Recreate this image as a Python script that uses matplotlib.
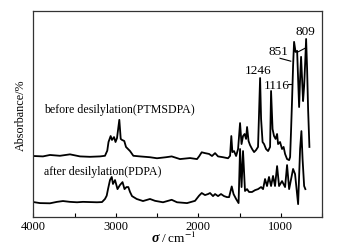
import matplotlib.pyplot as plt

plt.rcParams['font.family'] = ['Liberation Serif', 'DejaVu Serif']
plt.rcParams['mathtext.fontset'] = 'stix'

# spectra: wavenumber (cm-1) and absorbance (arb. units)
wn_before = [4000, 3885, 3800, 3679, 3557, 3436, 3315, 3193, 3133, 3105,
             3090, 3064, 3048, 3023, 3005, 2987, 2959, 2942, 2926, 2899,
             2878, 2829, 2789, 2708, 2587, 2502, 2393, 2324, 2223, 2102,
             2017, 1992, 1960, 1920, 1871, 1835, 1798, 1762, 1701, 1641,
             1616, 1601, 1588, 1568, 1543, 1519, 1495, 1477, 1459, 1440,
             1422, 1410, 1392, 1374, 1349, 1325, 1301, 1277, 1265, 1252,
             1240, 1222, 1204, 1180, 1155, 1131, 1119, 1101, 1083, 1064,
             1046, 1034, 1010, 986, 967, 949, 925, 900, 888, 876,
             864, 852, 840, 822, 803, 791, 779, 767, 755, 743,
             731, 718, 706, 694, 682, 670, 654]
a_before = [29.7, 29.5, 30.2, 29.8, 30.5, 29.5, 29.3, 29.5, 29.8, 32.3,
            36.5, 39.4, 37.5, 38.9, 36.5, 38.4, 47.3, 38.0, 37.5, 37.0,
            34.1, 32.1, 29.8, 29.5, 29.1, 28.6, 29.1, 29.5, 28.2, 28.7,
            28.2, 29.5, 31.5, 31.1, 30.7, 29.7, 31.1, 29.5, 29.1, 28.6,
            29.8, 39.4, 31.6, 32.1, 29.7, 33.1, 45.7, 35.5, 39.4, 40.4,
            38.0, 43.8, 37.0, 35.0, 33.1, 31.6, 32.6, 34.1, 50.1, 67.6,
            47.7, 36.5, 35.5, 33.1, 32.1, 34.1, 61.3, 42.8, 39.4, 38.0,
            40.4, 35.5, 36.5, 33.1, 34.1, 30.7, 28.2, 27.7, 29.2, 42.8,
            57.4, 73.5, 85.2, 80.3, 80.8, 67.2, 53.5, 67.2, 77.9, 67.2,
            56.4, 63.7, 74.5, 86.6, 72.0, 52.6, 34.1]

wn_after = [4000, 3921, 3800, 3715, 3642, 3557, 3472, 3400, 3315, 3230,
            3169, 3133, 3112, 3096, 3072, 3051, 3036, 3011, 2981, 2951,
            2920, 2896, 2872, 2850, 2829, 2805, 2748, 2672, 2587, 2526,
            2429, 2324, 2259, 2138, 2041, 1992, 1960, 1920, 1883, 1859,
            1823, 1798, 1762, 1726, 1689, 1653, 1628, 1596, 1574, 1543,
            1513, 1495, 1477, 1459, 1435, 1410, 1386, 1350, 1313, 1277,
            1240, 1216, 1192, 1168, 1144, 1119, 1095, 1071, 1046, 1022,
            986, 949, 925, 900, 876, 852, 828, 791, 767, 751,
            737, 718, 703]
a_after = [7.3, 6.8, 6.7, 7.4, 7.8, 7.4, 7.2, 7.4, 7.3, 7.2,
           7.3, 8.8, 10.4, 13.6, 18.0, 19.5, 16.1, 18.0, 13.6, 15.6,
           17.0, 13.6, 14.6, 14.6, 12.2, 10.2, 8.8, 7.8, 8.8, 7.9,
           7.2, 8.4, 7.2, 6.8, 7.9, 10.4, 11.7, 10.7, 11.2, 11.7,
           10.2, 11.2, 10.2, 11.2, 10.2, 9.7, 9.7, 14.9, 11.2, 8.8,
           6.8, 33.1, 14.6, 32.1, 12.7, 13.6, 12.2, 12.2, 13.1, 13.6,
           14.6, 13.6, 18.5, 15.1, 19.5, 15.1, 20.0, 15.1, 24.8, 15.1,
           17.5, 14.6, 25.3, 13.6, 18.5, 23.4, 20.9, 6.3, 33.1, 41.8,
           28.2, 15.1, 13.6]

peak_labels = ["1246", "1116", "851", "809"]
series_labels = ["before desilylation(PTMSDPA)", "after desilylation(PDPA)"]

fig = plt.figure(figsize=(3.38, 2.53), dpi=100)
ax = fig.add_axes([0.099, 0.138, 0.854, 0.813])

ax.plot(wn_before, a_before, color='black', lw=1.3)
ax.plot(wn_after, a_after, color='black', lw=1.3)

ax.set_xlim(4000, 500)
ax.set_ylim(0, 100)
ax.set_xticks([4000, 3000, 2000, 1000])
ax.set_xticks([3500, 2500, 1500, 500], minor=True)
ax.set_yticks([])
ax.tick_params(axis='x', which='both', direction='in', length=3, width=0.8,
               labelsize=9, pad=2)
for s in ax.spines.values():
    s.set_linewidth(0.9)
    s.set_color('#333333')

ax.set_ylabel('Absorbance/%', fontsize=8.7, labelpad=5)

# x label: bold italic sigma + unit
ax.text(0.435, -0.097, '\u03c3', transform=ax.transAxes, fontsize=10,
        style='italic', weight='bold', ha='right', va='center')
ax.text(0.442, -0.097, '/ cm$^{-1}$', transform=ax.transAxes,
        fontsize=9.5, ha='left', va='center')

ax.text(3873, 52.6, series_labels[0], fontsize=8.6, va='center')
ax.text(3873, 22.5, series_labels[1], fontsize=8.6, va='center')

# peak labels and leader lines
ax.text(1277, 71.5, peak_labels[0], fontsize=9.5, ha='center', va='center')
ax.text(1050, 64.2, peak_labels[1], fontsize=9.5, ha='center', va='center')
ax.plot([909, 880], [64.7, 64.7], color='black', lw=0.8)
ax.text(1028, 80.8, peak_labels[2], fontsize=9.5, ha='center', va='center')
ax.plot([1010, 880], [77.2, 75.8], color='black', lw=0.8)
ax.text(700, 90.7, peak_labels[3], fontsize=9.5, ha='center', va='center')
ax.plot([788, 706], [80.4, 82.1], color='black', lw=0.8)

fig.savefig('out.png', dpi=100)
